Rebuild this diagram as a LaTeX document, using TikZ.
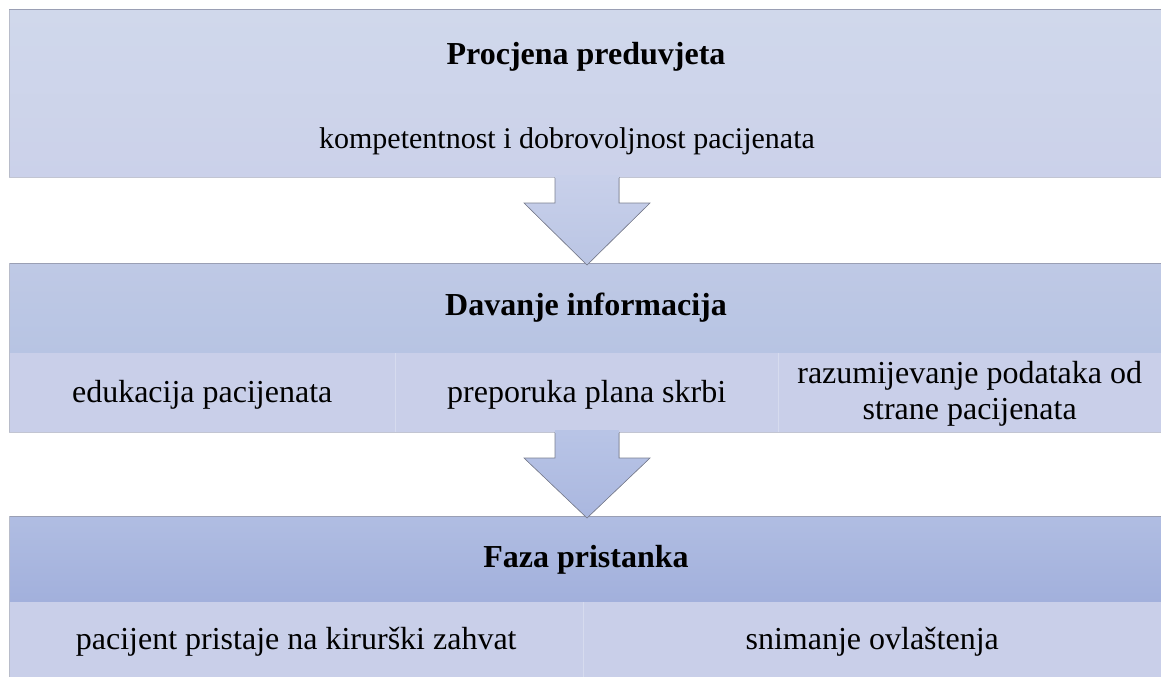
\documentclass[tikz,border=0pt]{standalone}
\usepackage{fontspec}
\setmainfont{Liberation Serif}
\usetikzlibrary{calc}
\definecolor{edge}{HTML}{9A9FB4}
\definecolor{divline}{HTML}{D6DBEE}
\definecolor{sub}{HTML}{C9CFE9}
\definecolor{b1top}{RGB}{208,216,235}
\definecolor{b1bot}{RGB}{203,209,234}
\definecolor{b2top}{RGB}{191,201,229}
\definecolor{b2bot}{RGB}{183,196,227}
\definecolor{b3top}{RGB}{176,189,226}
\definecolor{b3bot}{RGB}{162,176,220}
\definecolor{a1top}{RGB}{200,208,234}
\definecolor{a1bot}{RGB}{186,197,228}
\definecolor{a2top}{RGB}{184,196,230}
\definecolor{a2bot}{RGB}{170,183,223}
\tikzset{
  txt/.style={font=\fontsize{30}{35}\selectfont, align=center, text=black},
  celltxt/.style={font=\fontsize{32}{36}\selectfont, align=center, text=black},
  ttl/.style={font=\fontsize{32}{38}\selectfont\bfseries, text=black},
  band/.style={draw=none, anchor=north west, inner sep=0pt},
  arr/.style={draw=edge!80!black, line width=0.6pt, line join=miter},
}
\begin{document}
\begin{tikzpicture}[x=1pt,y=-1pt]
\useasboundingbox (0,0) rectangle (1161,677);
% Box 1
\node[band, minimum width=1152pt, minimum height=167pt, top color=b1top, bottom color=b1bot] (b1) at (9,10) {};
\draw[edge, line width=1pt] (b1.north west) -- (b1.north east);
\draw[edge!70, line width=0.8pt] (b1.north west) -- (b1.south west);
\draw[edge!60, line width=1pt] (b1.south west) -- (b1.south east);
\node[ttl] (t1) at (586,57) {Procjena preduvjeta};
\node[txt] (s1) at (567,141) {kompetentnost i dobrovoljnost pacijenata};
% Box 2
\node[band, minimum width=1152pt, minimum height=90pt, top color=b2top, bottom color=b2bot] (b2) at (9,263) {};
\node[band, minimum width=386pt, minimum height=79pt, fill=sub] (c21) at (9,353) {};
\node[band, minimum width=383pt, minimum height=79pt, fill=sub] (c22) at (395,353) {};
\node[band, minimum width=383pt, minimum height=79pt, fill=sub] (c23) at (778,353) {};
\draw[edge, line width=1pt] (b2.north west) -- (b2.north east);
\draw[edge!70, line width=0.8pt] (b2.north west) -- (c21.south west);
\draw[divline, line width=1pt] (c22.north west) -- (c22.south west);
\draw[divline, line width=1pt] (c23.north west) -- (c23.south west);
\draw[edge!60, line width=1pt] (c21.south west) -- (c23.south east);
\node[ttl] (t2) at (586,308) {Davanje informacija};
\node[celltxt] at ($(c21.center)+(0,2)$) {edukacija pacijenata};
\node[celltxt] at ($(c22.center)+(0,2)$) {preporuka plana skrbi};
\node[celltxt] at ($(c23.center)+(0,1)$) {razumijevanje podataka od\\strane pacijenata};
% Box 3
\node[band, minimum width=1152pt, minimum height=86pt, top color=b3top, bottom color=b3bot] (b3) at (9,516) {};
\node[band, minimum width=574pt, minimum height=75pt, fill=sub] (c31) at (9,602) {};
\node[band, minimum width=578pt, minimum height=75pt, fill=sub] (c32) at (583,602) {};
\draw[edge, line width=1pt] (b3.north west) -- (b3.north east);
\draw[edge!70, line width=0.8pt] (b3.north west) -- (c31.south west);
\draw[divline, line width=1pt] (c32.north west) -- (c32.south west);
\node[ttl] (t3) at (586,560) {Faza pristanka};
\node[celltxt] at ($(c31.center)+(0,2)$) {pacijent pristaje na kirurški zahvat};
\node[celltxt] at ($(c32.center)+(0,2)$) {snimanje ovlaštenja};
% Arrows
\coordinate (a1s) at (587,177);
\coordinate (a1e) at (587,265);
\filldraw[arr, top color=a1top, bottom color=a1bot]
  ($(a1s)+(-32,0)$) -- ($(a1s)+(-32,26)$) -- ($(a1s)+(-63,26)$) -- (a1e) -- ($(a1s)+(63,26)$) -- ($(a1s)+(32,26)$) -- ($(a1s)+(32,0)$);
\fill[a1top] ($(a1s)+(-31.7,-2)$) rectangle ($(a1s)+(31.7,1)$);
\coordinate (a2s) at (587,432);
\coordinate (a2e) at (587,518);
\filldraw[arr, top color=a2top, bottom color=a2bot]
  ($(a2s)+(-32,0)$) -- ($(a2s)+(-32,26)$) -- ($(a2s)+(-63,26)$) -- (a2e) -- ($(a2s)+(63,26)$) -- ($(a2s)+(32,26)$) -- ($(a2s)+(32,0)$);
\fill[a2top] ($(a2s)+(-31.7,-2)$) rectangle ($(a2s)+(31.7,1)$);
\end{tikzpicture}
\end{document}
